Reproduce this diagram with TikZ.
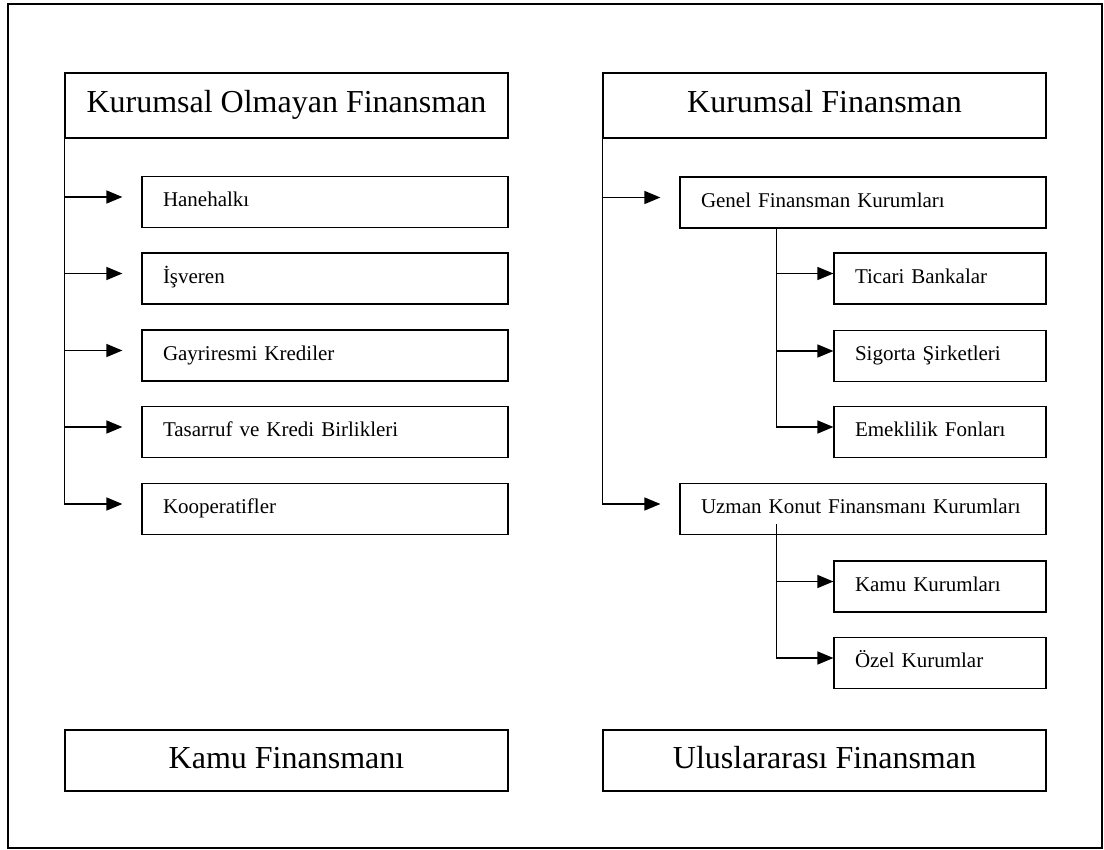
\documentclass[tikz,border=0pt]{standalone}
\usepackage{fontspec}
\setmainfont{Liberation Serif}
\usetikzlibrary{arrows.meta,calc}

\begin{document}
\begin{tikzpicture}[x=1pt,y=-1pt,
  bigbox/.style={draw,line width=1.2pt,minimum height=65pt,minimum width=443pt,
    inner sep=0pt,font=\fontsize{32}{36}\selectfont,text height=22pt,text depth=7pt},
  subbox/.style={draw,line width=1.2pt,minimum height=51pt,inner xsep=21pt,inner ysep=0pt,
    align=left,font=\fontsize{21}{24}\selectfont,text height=14.5pt,text depth=4.6pt},
  conn/.style={line width=1.5pt,-{Triangle[length=16pt,width=13pt]}}]

\useasboundingbox (0,0) rectangle (1104,850);
\draw[line width=1.6pt] (8,4) rectangle (1102,848);

% main headings
\node[bigbox] (kof) at (286.5,105.5) {Kurumsal Olmayan Finansman};
\node[bigbox] (kf)  at (824.5,105.5) {Kurumsal Finansman};
\node[bigbox,minimum height=61pt] (kamu) at (286.5,760.5) {Kamu Finansmanı};
\node[bigbox,minimum height=61pt] (ulus) at (824.5,760.5) {Uluslararası Finansman};

% non-institutional sources
\begin{scope}[every node/.style={subbox,text width=324pt}]
  \node (hane) at (325,202) {Hanehalkı};
  \node (isv)  at (325,278.5) {İşveren};
  \node (gayr) at (325,355.5) {Gayriresmi Krediler};
  \node (tas)  at (325,432) {Tasarruf ve Kredi Birlikleri};
  \node (koop) at (325,509) {Kooperatifler};
\end{scope}

% institutional sources
\begin{scope}[every node/.style={subbox,text width=324pt}]
  \node (genel) at (863,202.5) {Genel Finansman Kurumları};
  \node (uzman) at (863,509) {Uzman Konut Finansmanı Kurumları};
\end{scope}
\begin{scope}[every node/.style={subbox,text width=170pt}]
  \node (ticari) at (940,278.5) {Ticari Bankalar};
  \node (sig)    at (940,356) {Sigorta Şirketleri};
  \node (emek)   at (940,432) {Emeklilik Fonları};
  \node (kkur)   at (940,586.5) {Kamu Kurumları};
  \node (ozel)   at (940,663) {Özel Kurumlar};
\end{scope}

% branch points
\coordinate (gtrunk) at ($(genel.south west)+(97,0)$);
\coordinate (utrunk) at ($(uzman.south west)+(97,-11)$);

% left tree
\foreach \t in {hane,isv,gayr,tas,koop}
  \draw[conn] (kof.south west) |- ($(\t.west)+(-19,-5)$);

% right tree
\foreach \t in {genel,uzman}
  \draw[conn] (kf.south west) |- ($(\t.west)+(-19,-5)$);
\foreach \t in {ticari,sig,emek}
  \draw[conn] (gtrunk) |- ($(\t.west)+(0,-5)$);
\foreach \t in {kkur,ozel}
  \draw[conn] (utrunk) |- ($(\t.west)+(0,-5)$);

\end{tikzpicture}
\end{document}
